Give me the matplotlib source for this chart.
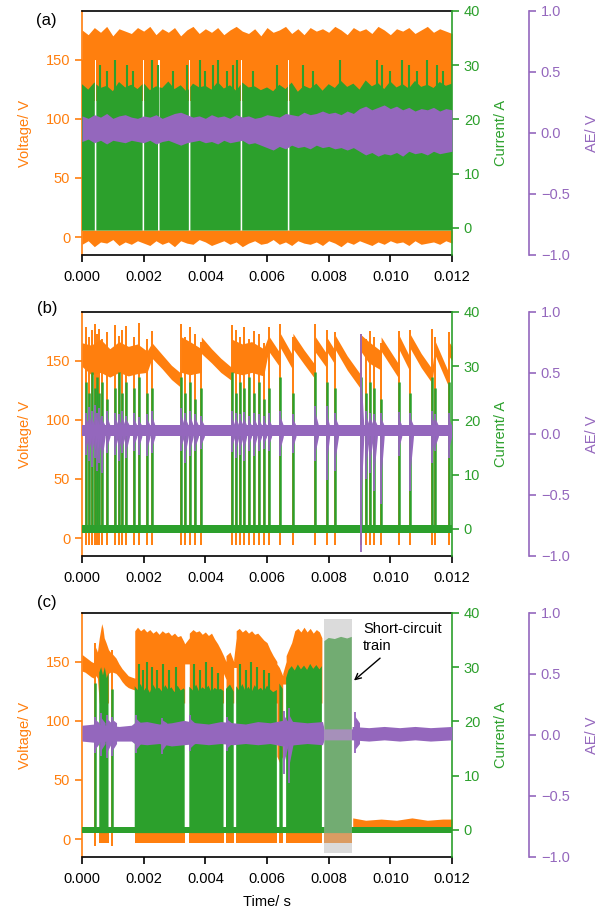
import numpy as np
import matplotlib
matplotlib.use("Agg")
import matplotlib.pyplot as plt
from matplotlib.ticker import StrMethodFormatter

plt.rcParams["font.family"] = ["Liberation Sans", "DejaVu Sans"]
plt.rcParams["font.size"] = 10.5

ORANGE = "#ff7f0e"
GREEN = "#2ca02c"
PURPLE = "#9467bd"

# ---------------- panel (a): steady dense discharging ----------------
a_t = np.linspace(0, 0.012, 61)
a_v_top = [175, 171, 177, 173, 178, 170, 176, 174, 172, 177,
           174, 178, 171, 176, 173, 177, 170, 175, 178, 172,
           176, 173, 177, 171, 175, 178, 174, 172, 176, 170,
           177, 173, 175, 178, 172, 176, 171, 177, 174, 176,
           173, 178, 175, 171, 177, 174, 176, 172, 178, 175,
           171, 176, 174, 177, 172, 175, 178, 173, 176, 174,
           172]
a_v_bot = [-6, -3, -8, -4, -5, -2, -7, -4, -6, -3,
           -5, -7, -3, -6, -4, -8, -3, -5, -6, -2,
           -4, -7, -5, -3, -6, -4, -8, -5, -3, -6,
           -5, -2, -6, -4, -7, -3, -5, -6, -4, -7,
           -3, -5, -8, -4, -6, -3, -5, -7, -4, -6,
           -3, -5, -4, -7, -3, -6, -5, -4, -6, -3,
           -5]
a_i_top = [26.5, 25.5, 26.8, 25.8, 26.2, 25.2, 26.9, 25.9, 26.4, 25.6,
           26.7, 25.4, 26.1, 25.8, 27.0, 25.6, 26.3, 25.1, 26.6, 25.9,
           26.2, 25.5, 26.9, 25.7, 26.3, 25.3, 26.8, 25.9, 26.1, 25.4,
           25.9, 25.2, 26.4, 25.6, 26.8, 25.1, 26.2, 25.7, 26.6, 25.3,
           26.5, 25.8, 27.1, 26.0, 26.6, 25.5, 27.2, 26.1, 26.7, 25.6,
           27.0, 25.9, 26.5, 25.7, 27.1, 26.0, 26.4, 25.8, 26.9, 26.2,
           26.6]
a_i_spk_t = [0.00058, 0.00081, 0.00107, 0.00146, 0.00166, 0.00227, 0.00247, 0.00295, 0.0034, 0.00383,
             0.00399, 0.00425, 0.00441, 0.0047, 0.0049, 0.00503, 0.00555, 0.00632, 0.00717, 0.0075,
             0.00837, 0.00957, 0.00973, 0.01, 0.01038, 0.01059, 0.01086, 0.01118, 0.0115, 0.01172]
a_i_spk_v = [30, 29, 31, 30, 29, 31, 30, 29, 30, 31,
             29, 30, 31, 29, 30, 31, 29, 30, 30, 29,
             31, 31, 30, 29, 31, 30, 29, 31, 30, 29]
a_gaps = [0.00044, 0.00199, 0.00249, 0.00349, 0.00517, 0.0067]
a_ae_top = [0.14, 0.12, 0.15, 0.13, 0.16, 0.12, 0.14, 0.15, 0.13, 0.12,
            0.14, 0.13, 0.15, 0.12, 0.14, 0.16, 0.17, 0.15, 0.13, 0.14,
            0.12, 0.15, 0.13, 0.14, 0.12, 0.15, 0.13, 0.14, 0.12, 0.13,
            0.15, 0.14, 0.13, 0.16, 0.15, 0.14, 0.17, 0.15, 0.16, 0.18,
            0.16, 0.17, 0.15, 0.18, 0.16, 0.20, 0.22, 0.19, 0.21, 0.23,
            0.20, 0.22, 0.19, 0.21, 0.18, 0.20, 0.19, 0.21, 0.18, 0.20,
            0.19]
a_ae_bot = [-0.07, -0.05, -0.08, -0.06, -0.09, -0.06, -0.07, -0.08, -0.06, -0.07,
            -0.08, -0.06, -0.09, -0.07, -0.06, -0.08, -0.10, -0.08, -0.07, -0.06,
            -0.08, -0.07, -0.09, -0.06, -0.08, -0.07, -0.06, -0.09, -0.08, -0.10,
            -0.12, -0.14, -0.11, -0.13, -0.10, -0.12, -0.11, -0.13, -0.10, -0.12,
            -0.11, -0.13, -0.12, -0.14, -0.12, -0.15, -0.18, -0.16, -0.19, -0.17,
            -0.18, -0.16, -0.19, -0.15, -0.17, -0.16, -0.18, -0.15, -0.17, -0.16,
            -0.15]

# ---------------- panel (b): isolated short circuits ----------------
b_ev = [0.00013, 0.00022, 0.00031, 0.00041, 0.00048, 0.00056, 0.00065, 0.00081, 0.00108, 0.00119,
        0.00130, 0.00144, 0.00168, 0.00184, 0.00211, 0.00227, 0.00322, 0.00335, 0.00351, 0.00368,
        0.00387, 0.00486, 0.00499, 0.00513, 0.00524, 0.00540, 0.00558, 0.00573, 0.00589, 0.00605,
        0.00643, 0.00684, 0.00757, 0.00793, 0.00822, 0.00904, 0.00922, 0.00935, 0.00948, 0.00970,
        0.01027, 0.01065, 0.01135, 0.01146, 0.01189]
b_vpeak = [178, 170, 176, 181, 172, 177, 168, 174, 180, 171,
           176, 179, 170, 182, 168, 175, 181, 170, 178, 172,
           166, 180, 176, 170, 178, 168, 175, 172, 165, 178,
           181, 170, 181, 176, 174, 172, 168, 175, 170, 165,
           175, 176, 177, 170, 174]
b_ipeak = [27, 25, 29, 26, 28, 25, 27, 24, 26, 29,
           25, 27, 26, 28, 25, 26, 28, 25, 27, 24,
           26, 29, 25, 27, 26, 28, 25, 27, 24, 26,
           28, 25, 29, 27, 26, 28, 25, 27, 26, 24,
           27, 25, 28, 26, 27]
b_ae_up = [0.10, 0.15, 0.12, 0.17, 0.10, 0.14, 0.08, 0.12, 0.10, 0.09,
           0.12, 0.08, 0.10, 0.07, 0.09, 0.12, 0.14, 0.10, 0.12, 0.09,
           0.08, 0.12, 0.10, 0.09, 0.11, 0.08, 0.10, 0.09, 0.08, 0.10,
           0.12, 0.09, 0.16, 0.16, 0.10, 0.75, 0.12, 0.10, 0.09, 0.10,
           0.11, 0.10, 0.12, 0.09, 0.10]
b_ae_dn = [0.15, 0.20, 0.25, 0.18, 0.28, 0.22, 0.30, 0.14, 0.15, 0.20,
           0.14, 0.18, 0.12, 0.15, 0.16, 0.14, 0.12, 0.22, 0.16, 0.12,
           0.10, 0.13, 0.18, 0.15, 0.20, 0.12, 0.16, 0.12, 0.10, 0.12,
           0.16, 0.14, 0.20, 0.36, 0.28, 0.95, 0.35, 0.30, 0.45, 0.55,
           0.16, 0.45, 0.22, 0.12, 0.18]
b_arc_t = [0, 0.0003, 0.0006, 0.0009, 0.0012, 0.0015, 0.0018, 0.00211,
           0.00227, 0.0026, 0.0029, 0.00322,
           0.00322, 0.0035, 0.00387,
           0.00387, 0.0042, 0.0045, 0.00486,
           0.00486, 0.0052, 0.0055, 0.00589,
           0.00605, 0.00643,
           0.00643, 0.00684,
           0.00684, 0.0072, 0.00757,
           0.00757, 0.00793,
           0.00793, 0.00822,
           0.00822, 0.0086, 0.00904,
           0.00904, 0.0093, 0.0097,
           0.0097, 0.01027,
           0.01027, 0.01065,
           0.01065, 0.011, 0.01135,
           0.01146, 0.01189,
           0.01189, 0.012]
b_arc_lo = [145, 138, 140, 136, 140, 137, 139, 140,
            152, 143, 134, 127,
            140, 138, 140,
            156, 148, 140, 133,
            140, 138, 140, 137,
            158, 144,
            161, 142,
            160, 147, 134,
            157, 144,
            158, 146,
            159, 142, 126,
            158, 148, 142,
            158, 135,
            160, 140,
            160, 144, 131,
            154, 128,
            154, 150]
b_arc_hi = [165, 163, 168, 160, 166, 162, 164, 158,
            165, 155, 146, 139,
            170, 166, 160,
            170, 160, 152, 144,
            168, 164, 166, 160,
            171, 156,
            173, 154,
            173, 159, 146,
            170, 156,
            170, 158,
            171, 154, 138,
            172, 166, 158,
            170, 147,
            172, 152,
            172, 156, 143,
            166, 140,
            166, 162]

# ---------------- panel (c): arcing ending in a short-circuit train ----------------
c_v_t = [0.0, 0.0001, 0.0002, 0.0003, 0.00038, 0.00045, 0.0005,
         0.00056, 0.0006, 0.00064, 0.00068, 0.00072, 0.00078, 0.00086,
         0.00086, 0.00092, 0.001, 0.0011, 0.0012, 0.0013, 0.0014, 0.0015, 0.0016, 0.00171,
         0.00171, 0.0018, 0.0019, 0.002, 0.0021, 0.0022, 0.0023, 0.0024, 0.0025, 0.0026,
         0.0027, 0.0028, 0.0029, 0.003, 0.0031, 0.0032, 0.0033, 0.00333,
         0.00333, 0.00348,
         0.00348, 0.0036, 0.0037, 0.0038, 0.0039, 0.004, 0.0041, 0.0042, 0.0043, 0.0044,
         0.0045, 0.00459,
         0.00459, 0.00467,
         0.00467, 0.0048, 0.00492,
         0.00492, 0.005,
         0.005, 0.0051, 0.0052, 0.0053, 0.0054, 0.0055, 0.0056, 0.0057, 0.0058, 0.0059,
         0.006, 0.0061, 0.0062, 0.00632,
         0.00632, 0.0064, 0.00651,
         0.00651, 0.00662,
         0.00662, 0.0067, 0.0068, 0.0069, 0.007, 0.0071, 0.0072, 0.0073, 0.0074, 0.0075,
         0.0076, 0.0077, 0.00778]
c_v_lo = [142, 141, 139, 137, 136, 138, 136,
          115, 115, 115, 115, 115, 115, 115,
          140, 141, 141, 140, 137, 133, 130, 128, 127, 126,
          115, 115, 115, 115, 115, 115, 115, 115, 115, 115,
          115, 115, 115, 115, 115, 115, 115, 115,
          148, 148,
          115, 115, 115, 115, 115, 115, 115, 115, 115, 115,
          115, 115,
          140, 135,
          115, 115, 115,
          145, 145,
          115, 115, 115, 115, 115, 115, 115, 115, 115, 115,
          115, 115, 115, 115,
          70, 65, 70,
          131, 131,
          115, 115, 115, 115, 115, 115, 115, 115, 115, 115,
          115, 115, 115]
c_v_hi = [156, 154, 152, 150, 149, 162, 158,
          170, 176, 182, 178, 170, 166, 160,
          160, 158, 156, 153, 148, 144, 141, 138, 137, 136,
          176, 179, 176, 178, 175, 177, 174, 176, 173, 176,
          174, 175, 172, 174, 171, 172, 167, 165,
          165, 170,
          174, 177, 175, 176, 173, 175, 172, 174, 169, 165,
          160, 155,
          155, 150,
          155, 158, 150,
          152, 170,
          176, 178, 175, 177, 174, 176, 173, 174, 171, 168,
          166, 160, 155, 150,
          148, 145, 138,
          140, 150,
          155, 160, 166, 176, 178, 175, 179, 175, 178, 174,
          177, 175, 170]
# dense current blocks, separated by nan; last block is the short-circuit train
c_i_t = [0.00056, 0.00062, 0.00068, 0.00074, 0.0008, 0.00086, 0.0013,
         0.00171, 0.0018, 0.0019, 0.002, 0.0021, 0.0022, 0.0023, 0.0024, 0.0025, 0.0026,
         0.0027, 0.0028, 0.0029, 0.003, 0.0031, 0.0032, 0.0033, 0.00333, 0.0034,
         0.00348, 0.0036, 0.0037, 0.0038, 0.0039, 0.004, 0.0041, 0.0042, 0.0043, 0.0044,
         0.0045, 0.00459, 0.00463,
         0.00467, 0.0048, 0.00492, 0.00496,
         0.005, 0.0051, 0.0052, 0.0053, 0.0054, 0.0055, 0.0056, 0.0057, 0.0058, 0.0059,
         0.006, 0.0061, 0.0062, 0.00632, 0.00636,
         0.0064, 0.00651, 0.00656,
         0.00662, 0.0067, 0.0068, 0.0069, 0.007, 0.0071, 0.0072, 0.0073, 0.0074, 0.0075,
         0.0076, 0.0077, 0.00778, 0.0078,
         0.00786, 0.008, 0.0082, 0.0084, 0.0086, 0.00875]
c_i_top = [29, 30, 28.5, 30, 28, 29, np.nan,
           26.5, 25.8, 26.9, 25.6, 26.4, 25.3, 26.8, 25.9, 26.2, 25.5,
           26.7, 25.8, 26.3, 25.4, 26.6, 25.7, 26.1, 25.8, np.nan,
           26.4, 25.7, 26.8, 25.5, 26.3, 25.9, 26.6, 25.4, 26.2, 25.8,
           26.0, 25.6, np.nan,
           26.0, 26.8, 25.5, np.nan,
           26.5, 25.7, 26.9, 25.6, 26.4, 25.4, 26.7, 25.8, 26.2, 25.5,
           26.6, 25.9, 25.4, 25.8, np.nan,
           27, 26, np.nan,
           28, 29.5, 30.2, 29.4, 30.5, 29.6, 30.3, 29.5, 30.6, 29.7,
           30.4, 29.6, 30.2, np.nan,
           34.8, 35.4, 35.2, 35.6, 35.3, 35.6]
c_i_spk_t = [0.00185, 0.00198, 0.00212, 0.00228, 0.00244, 0.00262, 0.00281, 0.00304,
             0.00364, 0.00382, 0.00401, 0.00423, 0.00441,
             0.00512, 0.00531, 0.00548, 0.00566, 0.00589, 0.00607]
c_i_spk_v = [30.5, 29.5, 31, 30, 29.5, 30.5, 29.5, 30,
             30.5, 29.5, 31, 30, 29,
             30.5, 29.5, 31, 30, 29.5, 29]
c_ev = [0.00041, 0.00097]
c_ev_vpeak = [166, 160]
c_ev_ipeak = [27, 26]
c_tail_t = [0.00878, 0.0092, 0.0097, 0.0102, 0.0107, 0.0112, 0.0117, 0.012]
c_tail_lo = [8, 9, 8, 9, 8, 9, 8, 9]
c_tail_hi = [18, 16, 17, 16, 18, 16, 17, 17]
c_ae_t = [0, 0.0004, 0.0008, 0.0012, 0.0016,
          0.0017, 0.0021, 0.0025, 0.0029, 0.0033, 0.0037, 0.0041, 0.0045, 0.0049, 0.0053,
          0.0057, 0.0061, 0.0065, 0.0069, 0.0073, 0.0078,
          0.00785, 0.00876,
          0.00876, 0.0093, 0.0098, 0.0103, 0.0108, 0.0113, 0.012]
c_ae_top = [0.08, 0.09, 0.08, 0.07, 0.08,
            0.10, 0.11, 0.09, 0.10, 0.12, 0.10, 0.09, 0.11, 0.10, 0.09,
            0.11, 0.10, 0.12, 0.11, 0.10, 0.11,
            0.05, 0.05,
            0.07, 0.06, 0.07, 0.06, 0.07, 0.06, 0.07]
c_ae_bot = [-0.05, -0.06, -0.05, -0.05, -0.05,
            -0.07, -0.08, -0.07, -0.09, -0.08, -0.07, -0.08, -0.07, -0.08, -0.07,
            -0.08, -0.07, -0.09, -0.08, -0.07, -0.08,
            -0.04, -0.04,
            -0.04, -0.05, -0.04, -0.05, -0.04, -0.05, -0.04]
c_burst_t = [0.00041, 0.0006, 0.0008, 0.00097, 0.00175, 0.0026, 0.0035, 0.0047, 0.00655, 0.0067, 0.00885]
c_burst_up = [0.05, 0.08, 0.06, 0.05, 0.06, 0.04, 0.06, 0.05, 0.10, 0.12, 0.09]
c_burst_dn = [0.08, 0.10, 0.12, 0.10, 0.08, 0.09, 0.06, 0.06, 0.25, 0.32, 0.08]
c_span = (0.00784, 0.00877)


def gapped(t, y, gaps, w):
    # cut narrow holes into a band at the given times
    t = np.asarray(t, float)
    y0 = np.asarray(y, float) * np.ones_like(t)
    y = y0.copy()
    for g in gaps:
        y[np.abs(t - g) < w / 2] = np.nan
    extra_t, extra_y = [], []
    for g in gaps:
        extra_t += [g - w / 2, g, g + w / 2]
        extra_y += [np.interp(g - w / 2, t, y0), np.nan, np.interp(g + w / 2, t, y0)]
    tt = np.concatenate([t, extra_t])
    yy = np.concatenate([y, extra_y])
    order = np.argsort(tt, kind="stable")
    return tt[order], yy[order]


def bursts(ax, times, up, dn, hi, lo, decay):
    # a thin spike at the event and a tail that dies away
    for t0, u, d in zip(times, up, dn):
        ax.vlines(t0, lo - d, hi + u, color=PURPLE, lw=1.3)
        ax.fill_between([t0, t0 + decay], [lo - 0.6 * d, lo], [hi + 0.6 * u, hi],
                        color=PURPLE, lw=0)


def make_axes(fig, bottom):
    ax = fig.add_axes([0.136, bottom, 0.6136, 0.2687])
    ax2 = ax.twinx()
    ax3 = ax.twinx()
    ax3.spines["right"].set_position(("axes", 1.208))
    for a in (ax2, ax3):
        for s in ("left", "top", "bottom"):
            a.spines[s].set_visible(False)
    ax.spines["right"].set_visible(False)
    for a in (ax, ax2, ax3):
        for s in a.spines.values():
            s.set_linewidth(1.2)
    ax.spines["left"].set_color(ORANGE)
    ax2.spines["right"].set_color(GREEN)
    ax3.spines["right"].set_color(PURPLE)

    ax.set_xlim(0, 0.012)
    ax.set_ylim(-15, 191)
    ax2.set_ylim(-5, 40)
    ax3.set_ylim(-1, 1)
    ax.set_xticks(np.arange(0, 0.0121, 0.002))
    ax.xaxis.set_major_formatter(StrMethodFormatter("{x:.3f}"))
    ax.set_yticks([0, 50, 100, 150])
    ax2.set_yticks([0, 10, 20, 30, 40])
    ax3.set_yticks([-1, -0.5, 0, 0.5, 1])

    ax.tick_params(axis="x", length=5, width=1.2, pad=5.5)
    ax.tick_params(axis="y", colors=ORANGE, length=5, width=1.2)
    ax2.tick_params(axis="y", colors=GREEN, length=5, width=1.2)
    ax3.tick_params(axis="y", colors=PURPLE, length=5, width=1.2)

    ax.set_ylabel("Voltage/ V", color=ORANGE, labelpad=9.5)
    ax2.set_ylabel("Current/ A", color=GREEN, labelpad=10)
    ax3.set_ylabel("AE/ V", color=PURPLE, labelpad=11)
    return ax, ax2, ax3


fig = plt.figure(figsize=(6.03, 9.08), dpi=100)

# (a)
ax, ax2, ax3 = make_axes(fig, 0.7192)
ax.fill_between(a_t, a_v_bot, 6, color=ORANGE, lw=0)
ax.fill_between(a_t, 150, a_v_top, color=ORANGE, lw=0)
tg, vg = gapped(a_t, 150, a_gaps, 0.00005)
ax.fill_between(tg, 115, vg, color=ORANGE, lw=0)
tg, ig = gapped(a_t, a_i_top, a_gaps, 0.00005)
ax2.fill_between(tg, -0.5, ig, color=GREEN, lw=0)
ax2.vlines(a_i_spk_t, 20, a_i_spk_v, color=GREEN, lw=1.5)
ax3.fill_between(a_t, a_ae_bot, a_ae_top, color=PURPLE, lw=0)

# (b)
ax, ax2, ax3 = make_axes(fig, 0.3877)
ax.fill_between(b_arc_t, b_arc_lo, b_arc_hi, color=ORANGE, lw=0)
ax.vlines(b_ev, -6, b_vpeak, color=ORANGE, lw=1.4)
ax2.fill_between([0, 0.012], -0.8, 0.8, color=GREEN, lw=0)
ax2.vlines(b_ev, 0, b_ipeak, color=GREEN, lw=1.8)
ax3.fill_between([0, 0.012], -0.02, 0.07, color=PURPLE, lw=0)
bursts(ax3, b_ev, b_ae_up, b_ae_dn, 0.07, -0.02, 0.0001)

# (c)
ax, ax2, ax3 = make_axes(fig, 0.0562)
ax.fill_between(c_v_t, c_v_lo, c_v_hi, color=ORANGE, lw=0)
ci_t = np.array(c_i_t)
ci_top = np.array(c_i_top, float)
breaks = np.where(np.isnan(ci_top))[0]
for seg_t in np.split(ci_t, breaks):
    seg_t = seg_t[~np.isin(seg_t, ci_t[breaks])]
    ax.fill_between([seg_t[0], seg_t[-1]], -3, 5, color=ORANGE, lw=0)
ax.vlines(c_ev, -6, c_ev_vpeak, color=ORANGE, lw=1.4)
ax.fill_between(c_tail_t, c_tail_lo, c_tail_hi, color=ORANGE, lw=0)
ax2.fill_between([0, 0.012], -0.6, 0.6, color=GREEN, lw=0)
ax2.fill_between(ci_t, -0.6, ci_top, color=GREEN, lw=0)
ax2.vlines(c_i_spk_t, 20, c_i_spk_v, color=GREEN, lw=1.5)
ax2.vlines(c_ev, 0, c_ev_ipeak, color=GREEN, lw=1.8)
ax3.fill_between(c_ae_t, c_ae_bot, c_ae_top, color=PURPLE, lw=0)
bursts(ax3, c_burst_t, c_burst_up, c_burst_dn, 0.1, -0.07, 0.00015)
ax3.axvspan(*c_span, ymin=0.016, ymax=0.975, color="#b9b9b9", alpha=0.5, lw=0, zorder=5)
ax3.annotate("Short-circuit\ntrain", xy=(0.00882, 134), xycoords=ax.transData,
             xytext=(0.00911, 183), textcoords=ax.transData, ha="left", va="top",
             arrowprops=dict(arrowstyle="->", color="black", lw=1, relpos=(0.3, 0.0),
                             shrinkA=3, shrinkB=0))
ax.set_xlabel("Time/ s", labelpad=7)

fig.text(46 / 603, 1 - 21 / 908, "(a)", ha="center", va="center", fontsize=12)
fig.text(47 / 603, 1 - 309 / 908, "(b)", ha="center", va="center", fontsize=12)
fig.text(47 / 603, 1 - 603 / 908, "(c)", ha="center", va="center", fontsize=12)

fig.savefig("out.png", dpi=100)
